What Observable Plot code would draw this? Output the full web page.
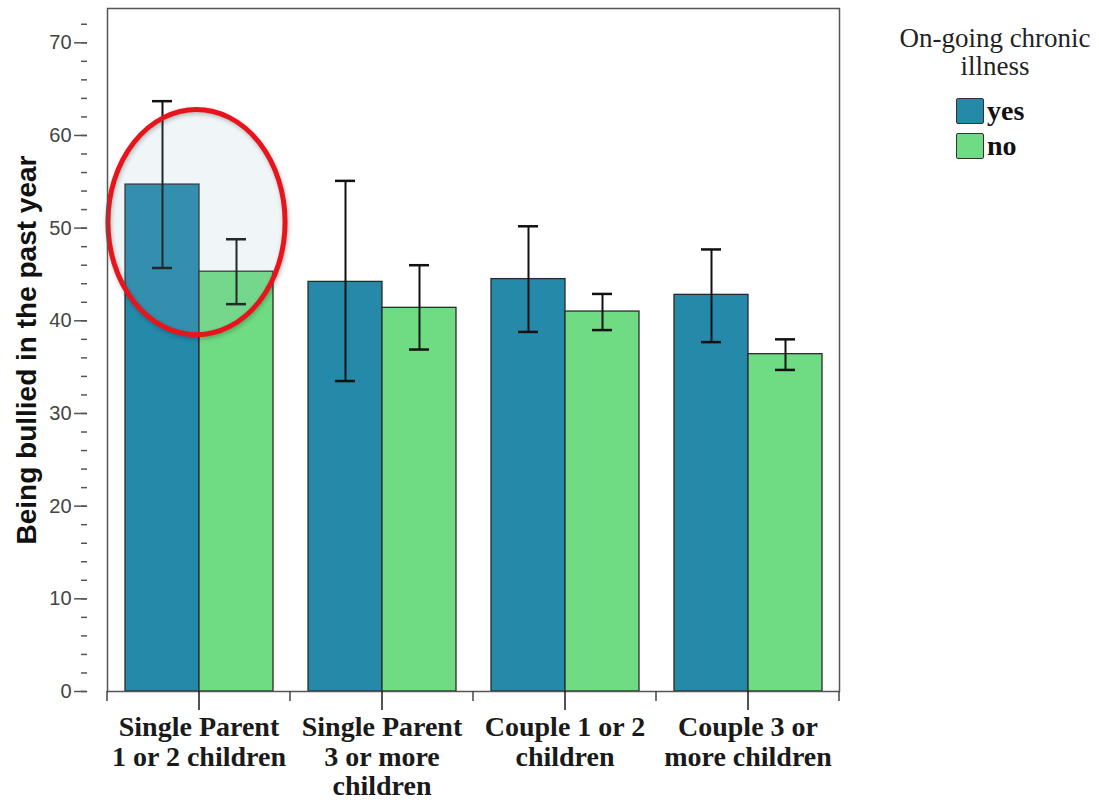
<!DOCTYPE html>
<html>
<head>
<meta charset="utf-8">
<script src="https://cdn.jsdelivr.net/npm/d3@7"></script>
<script src="https://cdn.jsdelivr.net/npm/@observablehq/plot@0.6"></script>
<style>
  html, body { margin: 0; padding: 0; background: #fff; }
  #wrap { position: relative; width: 1099px; height: 802px; }
  #legend-title { position: absolute; left: 895px; top: 24px; width: 200px; text-align: center;
    font-family: "Liberation Serif", serif; font-size: 27px; line-height: 28px; color: #222; }
  .lg-row { position: absolute; left: 956px; height: 27px; display: flex; align-items: center; }
  .lg-sw { width: 26px; height: 24px; border: 1.6px solid #333; border-radius: 2px; box-sizing: content-box; }
  .lg-lab { margin-left: 3px; font-family: "Liberation Serif", serif; font-weight: bold; font-size: 28px; line-height: 27px; color: #111; }
</style>
</head>
<body>
<div id="wrap"></div>
<script>
// ---- data ----
const groups = ["Single Parent 1 or 2 children", "Single Parent 3 or more children", "Couple 1 or 2 children", "Couple 3 or more children"];
const groupLabels = ["Single Parent\n1 or 2 children", "Single Parent\n3 or more\nchildren", "Couple 1 or 2\nchildren", "Couple 3 or\nmore children"];
const illness = ["yes", "no"];
const illnessColors = ["#2589aa", "#6fdc83"];
const yesMean = [54.7, 44.2, 44.5, 42.8];
const yesLow  = [45.7, 33.5, 38.8, 37.7];
const yesHigh = [63.7, 55.1, 50.2, 47.7];
const noMean  = [45.3, 41.4, 41.0, 36.4];
const noLow   = [41.8, 36.9, 39.0, 34.7];
const noHigh  = [48.8, 46.0, 42.9, 38.0];
const yMajorTicks = [0, 10, 20, 30, 40, 50, 60, 70];
const yMinorTicks = [0, 2, 4, 6, 8, 10, 12, 14, 16, 18, 20, 22, 24, 26, 28, 30, 32, 34, 36, 38, 40, 42, 44, 46, 48, 50, 52, 54, 56, 58, 60, 62, 64, 66, 68, 70, 72];
const yLabel = "Being bullied in the past year";
const legendTitle = "On-going chronic illness";
// highlighted group (annotation ellipse), in data units
const highlight = {group: groups[0], yCenter: 50.6, yRadius: 12.15};

const data = [];
groups.forEach((g, i) => {
  data.push({group: g, illness: "yes", value: yesMean[i], low: yesLow[i], high: yesHigh[i]});
  data.push({group: g, illness: "no", value: noMean[i], low: noLow[i], high: noHigh[i]});
});

// layout
const W = 1099, H = 802, mL = 87, mR = 240, mT = 8, mB = 111;
const fxOuter = 0.109;
const fxStep = (W - mL - mR) / (groups.length + 2 * fxOuter);
const axisShift = -fxOuter * fxStep; // y axis sits on the frame edge, left of the first facet

const bw = s => typeof s.bandwidth === "function" ? s.bandwidth() : s.bandwidth;

const plot = Plot.plot({
  width: W,
  height: H,
  marginLeft: mL,
  marginRight: mR,
  marginTop: mT,
  marginBottom: mB,
  style: {background: "#fff", overflow: "visible"},
  fx: {domain: groups, paddingInner: 0, paddingOuter: fxOuter, axis: null, label: null},
  x: {domain: illness, paddingInner: 0, paddingOuter: 0.236, axis: null, label: null},
  y: {domain: [0, 73.7], axis: null, label: null},
  color: {domain: illness, range: illnessColors},
  marks: [
    Plot.barY(data, {fx: "group", x: "illness", y: "value", fill: "illness", stroke: "#2a2a2a", strokeWidth: 1.3}),
    Plot.ruleX(data, {fx: "group", x: "illness", y1: "low", y2: "high", stroke: "#111", strokeWidth: 2}),
    Plot.tickY(data, {fx: "group", x: "illness", y: "high", stroke: "#111", strokeWidth: 2.5, insetLeft: 27, insetRight: 27}),
    Plot.tickY(data, {fx: "group", x: "illness", y: "low", stroke: "#111", strokeWidth: 2.5, insetLeft: 27, insetRight: 27}),
    // highlight ellipse
    Plot.frame({
      facet: "super",
      render(index, scales) {
        const fx = scales.fx;
        const b = bw(fx);
        const cx = fx(highlight.group) + b / 2 - 2;
        const cy = scales.y(highlight.yCenter);
        const ry = scales.y(highlight.yCenter - highlight.yRadius) - cy;
        const rx = b * 0.484;
        const g = d3.create("svg:g");
        g.append("ellipse")
          .attr("cx", cx).attr("cy", cy).attr("rx", rx).attr("ry", ry)
          .attr("fill", "rgb(150,185,200)").attr("fill-opacity", 0.14)
          .attr("stroke", "none");
        g.append("ellipse")
          .attr("cx", cx).attr("cy", cy).attr("rx", rx).attr("ry", ry)
          .attr("fill", "none")
          .attr("stroke", "#e8141b").attr("stroke-width", 5)
          .style("filter", "drop-shadow(1px 2px 2px rgba(0,0,0,0.25))");
        return g.node();
      }
    }),
    // frame
    Plot.frame({facet: "super", stroke: "#555", strokeWidth: 1.5}),
    // minor x ticks at group boundaries
    Plot.frame({
      facet: "super",
      render(index, scales) {
        const fx = scales.fx;
        const b = bw(fx);
        const edges = groups.map(g => fx(g)).concat([fx(groups[groups.length - 1]) + b]);
        const y0 = scales.y(0);
        const g = d3.create("svg:g");
        edges.forEach(e => g.append("line")
          .attr("x1", e).attr("x2", e).attr("y1", y0).attr("y2", y0 + 10)
          .attr("stroke", "#444").attr("stroke-width", 1.5));
        return g.node();
      }
    }),
    // y axis
    Plot.axisY({ticks: yMinorTicks, tickSize: 6, tickFormat: () => "", stroke: "#555", strokeWidth: 1.5, label: null, dx: axisShift}),
    Plot.axisY({ticks: yMajorTicks, tickSize: 13, tickPadding: 3, stroke: "#555", strokeWidth: 1.5,
      fill: "#444", fontSize: 20, fontFamily: "Liberation Sans, Arial, sans-serif", label: null, dx: axisShift}),
    Plot.text([yLabel], {facet: "super", frameAnchor: "left", textAnchor: "middle", rotate: -90, dx: -80, fontSize: 28, fontWeight: "bold",
      fontFamily: "Liberation Sans, Arial, sans-serif", fill: "#111"}),
    // fx axis
    Plot.axisFx({anchor: "bottom", tickSize: 19, tickPadding: 5, tickFormat: g => groupLabels[groups.indexOf(g)],
      fontSize: 28, fontFamily: "Liberation Serif, Times New Roman, serif", fontWeight: "bold", lineHeight: 1.05,
      color: "#1a1a1a", strokeWidth: 1.5, label: null})
  ]
});

const wrap = document.getElementById("wrap");
wrap.appendChild(plot);

// legend
const title = document.createElement("div");
title.id = "legend-title";
title.innerHTML = legendTitle.replace("chronic ", "chronic<br>");
wrap.appendChild(title);
const rowTops = [97, 132];
illness.forEach((k, i) => {
  const row = document.createElement("div");
  row.className = "lg-row";
  row.style.top = rowTops[i] + "px";
  const sw = document.createElement("div");
  sw.className = "lg-sw";
  sw.style.background = illnessColors[i];
  const lab = document.createElement("span");
  lab.className = "lg-lab";
  lab.textContent = k;
  row.appendChild(sw); row.appendChild(lab);
  wrap.appendChild(row);
});
</script>
</body>
</html>
